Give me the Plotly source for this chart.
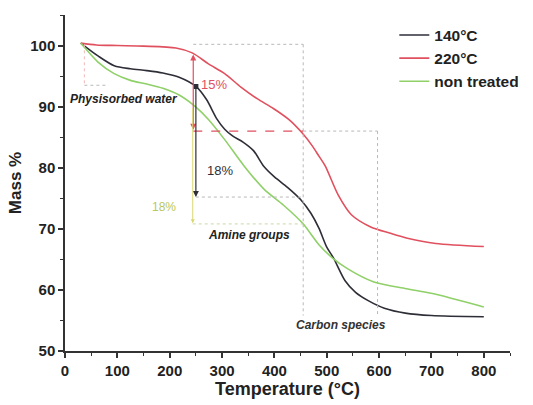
import plotly.graph_objects as go

# ---- data ----
t_140 = [30, 63, 94, 125, 156, 187, 218, 250, 270, 290, 305, 320, 340, 360, 380, 400, 425, 450,
         470, 485, 500, 513, 535, 555, 580, 610, 650, 700, 800]
m_140 = [100.4, 98.3, 96.7, 96.2, 95.9, 95.5, 94.8, 93.3, 91.2, 88.0, 86.3, 85.2, 84.2, 82.8,
         80.2, 78.5, 76.8, 74.8, 72.5, 70.1, 67.0, 65.2, 61.5, 59.6, 58.2, 57.0, 56.2, 55.8, 55.6]

t_220 = [30, 60, 100, 150, 212, 243, 274, 305, 336, 367, 398, 429, 454, 473, 485, 497, 522,
         547, 584, 620, 652, 708, 800]
m_220 = [100.4, 100.1, 100.0, 99.9, 99.6, 98.8, 97.0, 95.4, 93.2, 91.3, 89.7, 87.8, 85.6, 83.5,
         81.9, 80.3, 75.5, 72.3, 70.3, 69.3, 68.5, 67.6, 67.1]

t_nt = [30, 63, 94, 125, 156, 187, 218, 249, 274, 305, 342, 380, 417, 454, 485, 510, 541, 590,
        652, 702, 800]
m_nt = [100.4, 97.3, 95.4, 94.3, 93.7, 93.0, 91.9, 90.0, 87.9, 84.6, 80.3, 76.5, 73.9, 70.9,
        67.4, 65.3, 63.4, 61.3, 60.2, 59.4, 57.2]

series_names = ["140°C", "220°C", "non treated"]
series_colors = ["#2e2e38", "#e0505e", "#8fd068"]

x_ticks = [0, 100, 200, 300, 400, 500, 600, 700, 800]
y_ticks = [50, 60, 70, 80, 90, 100]

FONT = "Liberation Sans"

fig = go.Figure()
for name, tx, my, col in zip(series_names, [t_140, t_220, t_nt], [m_140, m_220, m_nt], series_colors):
    fig.add_trace(go.Scatter(x=tx, y=my, mode="lines", name=name,
                             line=dict(color=col, width=1.6, shape="spline", smoothing=0.8)))

# marker on the 140°C curve
fig.add_trace(go.Scatter(x=[250], y=[93.3], mode="markers", showlegend=False,
                         marker=dict(color="#2e2e38", size=5, symbol="square")))

grey = "#b8b8b8"
shapes = [
    # physisorbed water box
    dict(type="line", x0=37, x1=37, y0=100.2, y1=93.5, line=dict(color="#f2b8b8", width=1, dash="dot")),
    dict(type="line", x0=37, x1=83, y0=93.5, y1=93.5, line=dict(color=grey, width=1, dash="dot")),
    # amine group box
    dict(type="line", x0=245, x1=455, y0=100.2, y1=100.2, line=dict(color=grey, width=1, dash="dot")),
    dict(type="line", x0=455, x1=455, y0=100.2, y1=55.8, line=dict(color=grey, width=1, dash="dot")),
    dict(type="line", x0=245, x1=455, y0=86.0, y1=86.0, line=dict(color="#e05060", width=1.3, dash="dash")),
    dict(type="line", x0=455, x1=597, y0=86.0, y1=86.0, line=dict(color=grey, width=1, dash="dot")),
    dict(type="line", x0=597, x1=597, y0=86.0, y1=55.8, line=dict(color=grey, width=1, dash="dot")),
    dict(type="line", x0=250, x1=455, y0=75.2, y1=75.2, line=dict(color=grey, width=1, dash="dot")),
    dict(type="line", x0=244, x1=455, y0=70.8, y1=70.8, line=dict(color="#c8d8a8", width=1, dash="dot")),
]

annotations = [
    # red double arrow 15%
    dict(x=245, y=86.2, ax=245, ay=98.8, xref="x", yref="y", axref="x", ayref="y", text="",
         showarrow=True, arrowhead=2, arrowside="end+start", arrowsize=1, arrowwidth=1.2,
         arrowcolor="#e05060"),
    # black arrow 18%
    dict(x=250, y=75.2, ax=250, ay=93.3, xref="x", yref="y", axref="x", ayref="y", text="",
         showarrow=True, arrowhead=2, arrowsize=1, arrowwidth=1.2, arrowcolor="#2e2e38"),
    # yellow-green arrow 18%
    dict(x=244, y=70.9, ax=244, ay=90.0, xref="x", yref="y", axref="x", ayref="y", text="",
         showarrow=True, arrowhead=2, arrowsize=0.8, arrowwidth=1, arrowcolor="#d8d870"),
    dict(x=284, y=93.7, text="15%", showarrow=False, font=dict(family=FONT, size=13, color="#e05060")),
    dict(x=297, y=79.5, text="18%", showarrow=False, font=dict(family=FONT, size=13, color="#2e2e38")),
    dict(x=189, y=73.5, text="18%", showarrow=False, font=dict(family=FONT, size=12, color="#b8c860")),
    dict(x=5, y=91.3, text="<b><i>Physisorbed water</i></b>", showarrow=False, xanchor="left",
         font=dict(family=FONT, size=12, color="#222")),
    dict(x=352, y=69.0, text="<b><i>Amine groups</i></b>", showarrow=False,
         font=dict(family=FONT, size=12, color="#222")),
    dict(x=528, y=54.2, text="<b><i>Carbon species</i></b>", showarrow=False,
         font=dict(family=FONT, size=12, color="#333")),
]

axis_common = dict(showline=True, linecolor="#333", linewidth=1.5, ticks="outside", ticklen=5,
                   tickwidth=1.5, tickcolor="#333", showgrid=False, zeroline=False,
                   tickfont=dict(family=FONT, size=15, color="#222", weight="bold"))

fig.update_layout(
    width=533, height=405,
    margin=dict(l=65, r=9, t=15, b=47),
    paper_bgcolor="white", plot_bgcolor="white",
    shapes=shapes, annotations=annotations,
    xaxis=dict(range=[0, 850], tickvals=x_ticks, ticktext=[str(v) for v in x_ticks],
               minor=dict(dtick=50, tick0=0, ticks="outside", ticklen=3, tickwidth=1.2, tickcolor="#333"),
               title=dict(text="Temperature (°C)", standoff=5,
                          font=dict(family=FONT, size=18, color="#222", weight="bold")),
               **axis_common),
    yaxis=dict(range=[50, 105], tickvals=y_ticks, ticktext=[str(v) for v in y_ticks],
               minor=dict(dtick=5, tick0=50, ticks="outside", ticklen=3, tickwidth=1.2, tickcolor="#333"),
               title=dict(text="Mass %", standoff=4,
                          font=dict(family=FONT, size=17, color="#222", weight="bold")),
               **axis_common),
    legend=dict(x=0.74, y=0.99, xanchor="left", yanchor="top", bgcolor="rgba(0,0,0,0)",
                font=dict(family=FONT, size=15.5, color="#222", weight="bold"),
                tracegroupgap=0, itemwidth=30),
    showlegend=True,
)

fig.write_html("out.html", config={"displayModeBar": False},
               post_script="document.body.style.margin='0';document.body.style.overflow='hidden';")
